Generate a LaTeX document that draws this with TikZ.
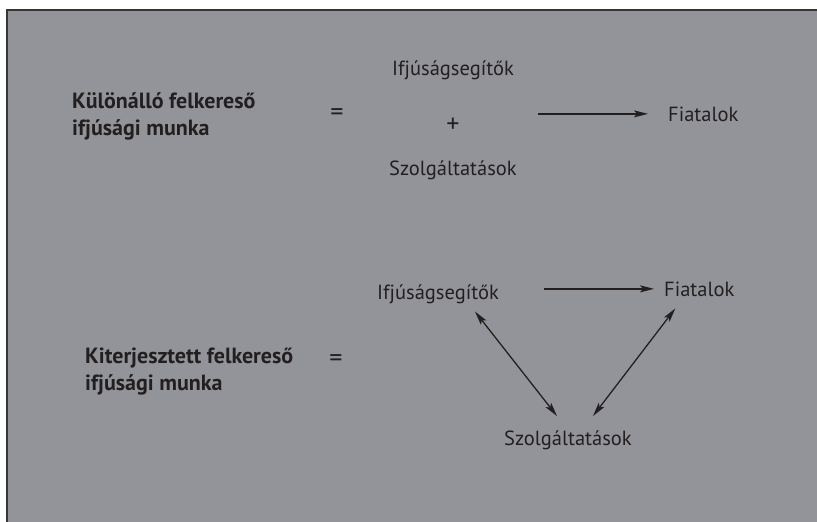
\documentclass[tikz,border=0pt]{standalone}
\usepackage{fontspec}
\setmainfont{PT Sans}
\usepackage{xcolor}
\usetikzlibrary{arrows.meta,positioning}
\definecolor{panel}{RGB}{147,148,153}
\definecolor{ink}{RGB}{35,31,32}
\tikzset{
  txt/.style={inner sep=0pt, text=ink, font=\fontsize{20.5}{27}\selectfont},
  sym/.style={txt, font=\fontsize{26}{27}\selectfont},
  hdr/.style={txt, font=\fontsize{22}{27}\selectfont\bfseries, align=left, anchor=west},
  arr/.style={draw=ink, line width=1.3pt, -{Stealth[length=14pt,width=7pt,inset=3pt]}},
  dbl/.style={draw=ink, line width=1.3pt, {Stealth[length=14pt,width=7pt,inset=3pt]}-{Stealth[length=14pt,width=7pt,inset=3pt]}}
}
\begin{document}
\begin{tikzpicture}[x=1pt,y=-1pt]
\useasboundingbox (0,0) rectangle (817,522);
\clip (0,0) rectangle (817,522);
\fill[white] (0,0) rectangle (817,522);
\draw[fill=panel, draw=ink!90, line width=2pt] (7,10) rectangle (830,540);

\node[hdr] (kul) at (72,116) {Különálló felkereső\\ifjúsági munka};
\node[sym] (eq1) at (337,115) {=};
\node[txt, anchor=base] (ifj1) at (453,75) {Ifjúságsegítők};
\node[sym] (plus) at (453,125) {+};
\node[txt, anchor=base] (szo1) at (453,175) {Szolgáltatások};
\node[txt, anchor=base west] (fia1) at (668,121) {Fiatalok};
\coordinate[left=130pt of fia1.west] (st1);
\draw[arr, shorten >=20pt] (st1) -- (fia1);

\node[hdr] (kit) at (85,372) {Kiterjesztett felkereső\\ifjúsági munka};
\node[sym] (eq2) at (336,361) {=};
\node[txt, anchor=base] (ifj2) at (438,299) {Ifjúságsegítők};
\node[txt, anchor=base west] (fia2) at (664,296) {Fiatalok};
\node[txt, anchor=base] (szo2) at (568,445) {Szolgáltatások};

\draw[arr, shorten <=45pt, shorten >=10pt] (ifj2.east |- fia2.west) -- (fia2.west);
\draw[dbl] ([xshift=37pt,yshift=-8pt]ifj2.south) -- ([xshift=-11pt,yshift=14pt]szo2.north);
\draw[dbl] ([xshift=-24pt,yshift=-12pt]fia2.south) -- ([xshift=25pt,yshift=14pt]szo2.north);
\end{tikzpicture}
\end{document}
